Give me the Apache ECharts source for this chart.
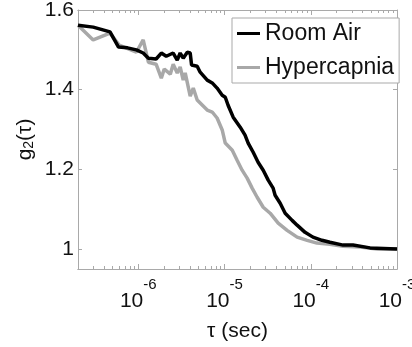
<!DOCTYPE html>
<html>
<head>
<meta charset="utf-8">
<script src="https://cdn.jsdelivr.net/npm/echarts@6/dist/echarts.min.js"></script>
<style>
  html, body {margin: 0; padding: 0; background: #fff;}
  #main {width: 412px; height: 347px;}
</style>
</head>
<body>
<div id="main"></div>
<script>
// values (tau in seconds, g2 dimensionless)
var tauRoom = [2.0e-7, 3.0e-7, 4.7e-7, 5.9e-7, 7.5e-7, 9.5e-7, 1.14e-6, 1.31e-6, 1.61e-6, 1.85e-6,
  2.11e-6, 2.54e-6, 2.83e-6, 3.06e-6, 3.32e-6, 3.70e-6, 4.0e-6, 4.15e-6, 4.82e-6, 5.22e-6,
  6.3e-6, 7.2e-6, 8.2e-6, 9.4e-6, 1.02e-5, 1.1e-5, 1.26e-5, 1.52e-5, 1.73e-5, 1.88e-5,
  2.15e-5, 2.45e-5, 2.81e-5, 3.21e-5, 3.66e-5, 3.86e-5, 4.42e-5, 5.05e-5, 6.08e-5, 6.95e-5,
  8.59e-5, 1.06e-4, 1.35e-4, 1.67e-4, 2.37e-4, 3.09e-4, 4.86e-4, 1.0e-3];
var g2Room = [1.562, 1.557, 1.545, 1.507, 1.505, 1.500, 1.492, 1.479, 1.477, 1.492,
  1.484, 1.492, 1.474, 1.492, 1.479, 1.494, 1.492, 1.462, 1.459, 1.444,
  1.424, 1.417, 1.404, 1.386, 1.381, 1.361, 1.331, 1.306, 1.286, 1.266,
  1.243, 1.218, 1.198, 1.173, 1.153, 1.135, 1.115, 1.090, 1.072, 1.060,
  1.042, 1.030, 1.022, 1.017, 1.010, 1.010, 1.003, 1.000];

var tauHyper = [2.0e-7, 3.0e-7, 4.7e-7, 6.0e-7, 9.5e-7, 1.14e-6, 1.31e-6, 1.61e-6, 1.85e-6, 2.0e-6,
  2.35e-6, 2.54e-6, 2.83e-6, 3.06e-6, 3.32e-6, 3.50e-6, 4.0e-6, 4.34e-6, 4.82e-6, 5.66e-6,
  6.3e-6, 7.2e-6, 8.2e-6, 9.4e-6, 1.02e-5, 1.23e-5, 1.40e-5, 1.60e-5, 1.83e-5, 2.09e-5,
  2.39e-5, 2.81e-5, 3.38e-5, 4.19e-5, 5.32e-5, 6.95e-5, 9.08e-5, 1.18e-4, 1.67e-4, 2.37e-4,
  3.73e-4, 5.86e-4, 1.0e-3];
var g2Hyper = [1.562, 1.525, 1.542, 1.512, 1.494, 1.525, 1.469, 1.464, 1.429, 1.452,
  1.439, 1.464, 1.442, 1.457, 1.424, 1.442, 1.384, 1.404, 1.374, 1.359,
  1.349, 1.344, 1.329, 1.299, 1.266, 1.248, 1.223, 1.198, 1.178, 1.153,
  1.130, 1.105, 1.090, 1.065, 1.047, 1.030, 1.022, 1.015, 1.012, 1.007,
  1.005, 1.000, 1.000];

var yTicks = [1, 1.2, 1.4, 1.6];
var xMajor = [1e-6, 1e-5, 1e-4, 1e-3];
var xMinor = [];
[-7, -6, -5, -4].forEach(function (e) {
    for (var k = 2; k <= 9; k++) {
        var v = k * Math.pow(10, e);
        if (v > 2.0e-7 && v < 1e-3) xMinor.push(v);
    }
});

function zip(a, b) {
    return a.map(function (t, i) { return [t, b[i]]; });
}

var font = 'Liberation Sans';
var boxColor = '#a9a9a9';
var ink = '#111';

function xAx(pos, values, len, labels) {
    return {
        type: 'log', logBase: 10, min: 2.0e-7, max: 1e-3, position: pos,
        axisLine: {show: true, lineStyle: {color: boxColor, width: 1}},
        axisTick: {show: true, inside: true, length: len, customValues: values,
            lineStyle: {color: boxColor}},
        splitLine: {show: false},
        axisLabel: labels ? {
            show: true, customValues: xMajor, margin: 8,
            formatter: function (v) {
                return '{b|10}{s|' + Math.round(Math.log10(v)) + '}';
            },
            rich: {
                b: {fontSize: 21, lineHeight: 35, verticalAlign: 'bottom', fontFamily: font, color: ink},
                s: {fontSize: 15, lineHeight: 15, verticalAlign: 'top', fontFamily: font, color: ink}
            }
        } : {show: false},
        name: labels ? 'τ (sec)' : '',
        nameLocation: 'middle', nameGap: 52, nameMoveOverlap: false,
        nameTextStyle: {fontSize: 21, fontFamily: font, color: ink}
    };
}

function yAx(pos, labels) {
    return {
        type: 'value', min: 0.95, max: 1.6, position: pos,
        axisLine: {show: true, lineStyle: {color: boxColor, width: 1}},
        axisTick: {show: true, inside: true, length: 4, customValues: yTicks,
            lineStyle: {color: boxColor}},
        splitLine: {show: false},
        axisLabel: labels ? {show: true, customValues: yTicks, margin: 4,
            fontSize: 21, fontFamily: font, color: ink} : {show: false},
        name: labels ? '{a|g}{sub|2}{a|(τ)}' : '',
        nameLocation: 'middle', nameGap: 42, nameRotate: 90, nameMoveOverlap: false,
        nameTextStyle: {
            rich: {
                a: {fontSize: 21, fontFamily: font, color: ink},
                sub: {fontSize: 14, fontFamily: font, color: ink, verticalAlign: 'bottom', padding: [8, 0, 0, 0]}
            }
        }
    };
}

var chart = echarts.init(document.getElementById('main'));
chart.setOption({
    animation: false,
    backgroundColor: '#fff',
    grid: {left: 78, top: 10, right: 15, bottom: 78, containLabel: false, outerBoundsMode: 'none'},
    legend: {
        orient: 'vertical', left: 232, top: 18,
        backgroundColor: '#fff', borderColor: boxColor, borderWidth: 1,
        padding: [4, 5, 4, 5], itemGap: 11, itemWidth: 23, itemHeight: 3, icon: 'rect',
        textStyle: {fontSize: 23, lineHeight: 23, fontFamily: font, color: ink},
        data: ['Room Air', 'Hypercapnia']
    },
    xAxis: [
        xAx('bottom', xMajor, 5, true),
        xAx('bottom', xMinor, 3, false),
        xAx('top', xMajor, 5, false),
        xAx('top', xMinor, 3, false)
    ],
    yAxis: [yAx('left', true), yAx('right', false)],
    series: [
        {
            name: 'Room Air', type: 'line', z: 3, showSymbol: false, symbol: 'none',
            color: '#000', lineStyle: {width: 3.5, color: '#000'},
            data: zip(tauRoom, g2Room)
        },
        {
            name: 'Hypercapnia', type: 'line', z: 2, showSymbol: false, symbol: 'none',
            color: '#a8a8a8', lineStyle: {width: 3.5, color: '#a8a8a8'},
            data: zip(tauHyper, g2Hyper)
        }
    ]
});
</script>
</body>
</html>
